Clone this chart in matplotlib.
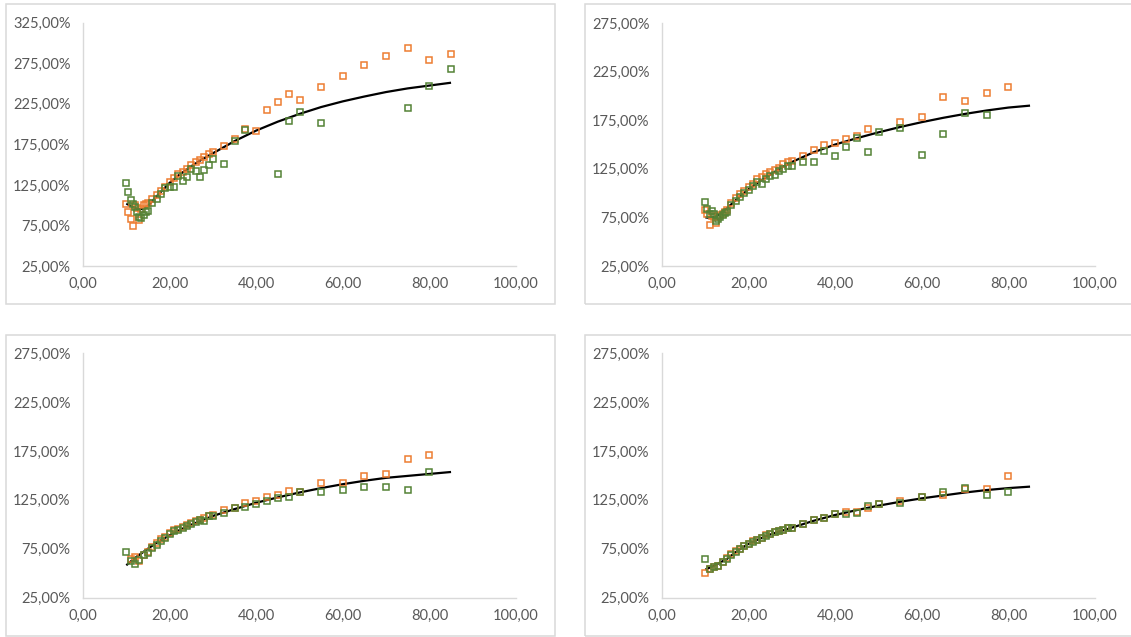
import numpy as np
import matplotlib
matplotlib.use("Agg")
import matplotlib.pyplot as plt
from matplotlib.ticker import FuncFormatter
from matplotlib.patches import Rectangle

nan = np.nan

# ---------------- data ----------------
x_fine = [10, 10.5, 11, 11.5, 12, 12.5, 13, 13.5, 14, 14.5, 15,
          16, 17, 18, 19, 20, 21, 22, 23, 24, 25, 26, 27, 28, 29, 30,
          32.5, 35, 37.5, 40, 42.5, 45, 47.5, 50,
          55, 60, 65, 70, 75, 80, 85]
x_coarse = [10, 11, 12, 13, 14, 15, 16, 17, 18, 19, 20, 21, 22, 23, 24, 25, 26, 27, 28, 29, 30,
            32.5, 35, 37.5, 40, 42.5, 45, 47.5, 50,
            55, 60, 65, 70, 75, 80]

p1_orange = [102, 92, 83, 74, 100, 97, 82, 95, 100, 102, 103,
             107, 113, 118, 123, 128, 133, 138, 141, 145, 149, 153, 156, 159, 163, 166,
             172.5, 182, 194.5, 192, 217, 227, 237, 230,
             245.5, 259.5, 272.5, 284.5, 294, 278.5, 287]
p1_green = [127, 116, 106, 101, 98, 92, 86, 84, 88, 91, 93,
            103, 108, 114, 121, 122, 122, 136, 130, 135, 144, 142, 135, 143, 150, 157,
            151, 179, 193, nan, nan, 138, 204, 215,
            201, nan, nan, nan, 220, 247, 268]

p2_orange = [83, 78, 67, 76, 75, 69, 76, 77, 79, 81, 83,
             90, 94.5, 99, 102.5, 106, 109, 114, 117, 120, 122, 124, 126, 130, 132, 133,
             138, 144, 149, 152, 156, 159, 165.5, nan,
             173.5, 178, 198.5, 195, 202.5, 209, nan]
p2_green = [91, 83.5, 78, 81.5, 79, 71, 73, 75, 77, 80, 81,
            88, 92, 96.5, 100, 103, 107, 111.5, 109, 115, 117.5, 118.5, 122.5, 124.5, 128, 128,
            132.5, 132.5, 143.5, 138, 147, 156.5, 142.5, 163,
            167, 139, 161, 182, 180, nan, nan]

p3_orange = [nan, 64, 66, 62, 69, 72, 77, 81, 85, 87, 91, 94, 95, 97, 99, 101, 103, 104.5, 106, 108, 109,
             115, 117, 122, 124, 128, 129.5, 134.5, 133,
             142.5, 142.5, 149.5, 151, 166.5, 171]
p3_green = [72, 62, 59, 63, 68, 71, 76, 79, 83, 86, 90, 93, 94, 96, 98, 100, 102, 104, 103, 108.5, 108.5,
            111, 117, 118, 120.5, 124, 126.5, 127.5, 133.5,
            132.5, 135.5, 138, 138, 135.5, 153]

p4_orange = [50, 54, 56, 57, 61, 65, 70, 72.5, 75, 78, 80, 82.5, 84, 86, 88.5, 90, 92, 93.5, 94.5, 96, 96,
             100.5, 104.5, 106.5, 110, 113, 113, 116.5, 121,
             123.5, 128, 129.5, 136, 136, 149.5]
p4_green = [64.5, 54.5, 56, 57, 61, 64.5, 69, 72, 75, 78, 80, 82, 84, 86, 88, 90, 91.7, 93.4, 94.4, 96.5, 96.5,
            100.5, 104.5, 106, 110.5, 110, 112, 119, 121,
            121.5, 128, 132.5, 137.5, 130, 132.5]

# trend lines
t12_x = [10, 11, 12, 13, 14, 15, 16, 18, 20, 22.5, 25, 27.5, 30, 35, 40, 45, 50, 55, 60, 65, 70, 75, 80, 85]
t1_y = [102, 99, 96.5, 95, 95.5, 99, 105, 116.5, 127.5, 138.5, 148, 156.5, 164, 179, 192, 203, 212.5,
        221, 228, 234, 239.5, 244, 247.5, 251]
t2_y = [75, 74.5, 75.5, 77.5, 80.5, 84.5, 88.5, 96.5, 104, 112, 119, 126, 132, 142, 150, 156.5, 162.5,
        168, 173, 177.5, 181.5, 185, 188, 190]
t34_x = [10, 12, 15, 17.5, 20, 22.5, 25, 30, 35, 40, 45, 50, 55, 60, 65, 70, 75, 80, 85]
t3_y = [58, 65.5, 75, 82.5, 88.5, 94.5, 99.5, 108.5, 115.5, 122, 127.5, 132.5, 137, 141, 144.5, 147.5,
        149.5, 151.5, 153.5]
t4_y = [53.5, 57.5, 64.5, 73, 80, 85, 89.5, 96.5, 103.5, 109.5, 114.5, 119, 123, 126.5, 129.5, 132.5,
        135, 137, 138.5]

y_ticks_1 = [25, 75, 125, 175, 225, 275, 325]
y_ticks_2 = [25, 75, 125, 175, 225, 275]
x_ticks = [0, 20, 40, 60, 80, 100]

# ---------------- style ----------------
W, H = 1131, 637
ORANGE = "#ED7D31"
GREEN = "#548235"
GRID = "#D9D9D9"
TXT = "#595959"
plt.rcParams["font.family"] = ["Lato", "DejaVu Sans"]

fig = plt.figure(figsize=(W / 100, H / 100), dpi=100)
fig.patch.set_facecolor("white")

def frac_rect(l, t, r, b):
    return [l / W, 1 - b / H, (r - l) / W, (b - t) / H]

borders = [(6, 4, 555, 304), (585, 4, 1140, 304), (6, 335, 555, 636), (585, 335, 1140, 636)]
for (l, t, r, b) in borders:
    fig.patches.append(Rectangle((l / W, 1 - b / H), (r - l) / W, (b - t) / H,
                                 transform=fig.transFigure, fill=False,
                                 edgecolor=GRID, linewidth=1.1))

axes_px = [(83, 22.7, 516, 266), (662, 23, 1095, 266),
           (83, 353.3, 516, 597.5), (662, 353.3, 1095, 597.5)]

panels = [
    (x_fine, p1_orange, p1_green, t12_x, t1_y, y_ticks_1),
    (x_fine, p2_orange, p2_green, t12_x, t2_y, y_ticks_2),
    (x_coarse, p3_orange, p3_green, t34_x, t3_y, y_ticks_2),
    (x_coarse, p4_orange, p4_green, t34_x, t4_y, y_ticks_2),
]

xfmt = FuncFormatter(lambda v, p: f"{v:.2f}".replace(".", ","))
yfmt = FuncFormatter(lambda v, p: f"{v:.2f}".replace(".", ",") + "%")

for (rect, (xs, yo, yg, tx, ty, yt)) in zip(axes_px, panels):
    ax = fig.add_axes(frac_rect(*rect))
    ax.set_facecolor("none")
    ax.plot(tx, ty, color="black", linewidth=1.6, zorder=2, solid_capstyle="butt")
    ax.plot(xs, yo, linestyle="none", marker="s", markersize=3.9, markeredgewidth=1.1,
            markerfacecolor="none", markeredgecolor=ORANGE, zorder=3)
    ax.plot(xs, yg, linestyle="none", marker="s", markersize=3.9, markeredgewidth=1.1,
            markerfacecolor="none", markeredgecolor=GREEN, zorder=4)
    ax.set_xlim(0, 100)
    ax.set_ylim(yt[0], yt[-1])
    ax.set_xticks(x_ticks)
    ax.set_yticks(yt)
    ax.xaxis.set_major_formatter(xfmt)
    ax.yaxis.set_major_formatter(yfmt)
    for s in ["top", "right"]:
        ax.spines[s].set_visible(False)
    for s in ["left", "bottom"]:
        ax.spines[s].set_color(GRID)
        ax.spines[s].set_linewidth(1.0)
        ax.spines[s].set_zorder(1)
    ax.tick_params(axis="x", length=0, pad=8, labelsize=10.5, labelcolor=TXT)
    ax.tick_params(axis="y", length=0, pad=9, labelsize=10.5, labelcolor=TXT)

fig.savefig("out.png", dpi=100, facecolor="white")
